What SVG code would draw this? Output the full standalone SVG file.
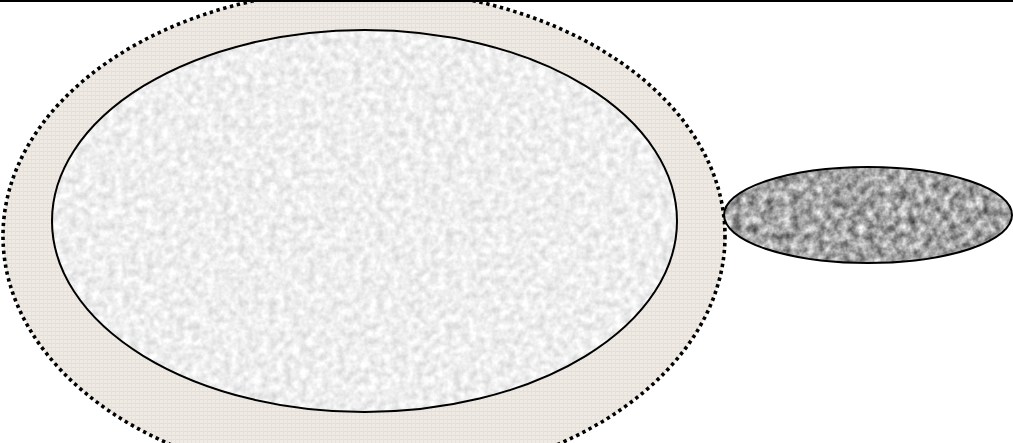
<svg xmlns="http://www.w3.org/2000/svg" width="1013" height="443" viewBox="0 0 1013 443">
  <style>
    .edge { fill: none; stroke: #000; stroke-width: 2; }
    .dotted { fill: none; stroke: #000; stroke-width: 3.6; stroke-dasharray: 3.4 3.6; }
  </style>
  <defs>
    <pattern id="canvas" width="4" height="4" patternUnits="userSpaceOnUse">
      <rect width="4" height="4" fill="#efebe4"/>
      <rect x="0" y="3" width="4" height="1" fill="#e4ded3"/>
      <rect x="3" y="0" width="1" height="4" fill="#e7e1d7"/>
    </pattern>
    <filter id="graniteLight" x="0" y="0" width="1" height="1" color-interpolation-filters="sRGB">
      <feTurbulence type="fractalNoise" baseFrequency="0.13" numOctaves="3" seed="4" result="n"/>
      <feColorMatrix in="n" type="matrix" values="0.25 0 0 0 0.81  0.25 0 0 0 0.81  0.25 0 0 0 0.81  0 0 0 0 1" result="g"/>
      <feComposite in="g" in2="SourceAlpha" operator="in"/>
    </filter>
    <filter id="graniteDark" x="0" y="0" width="1" height="1" color-interpolation-filters="sRGB">
      <feTurbulence type="fractalNoise" baseFrequency="0.12" numOctaves="3" seed="9" result="n"/>
      <feColorMatrix in="n" type="matrix" values="0.9 0 0 0 0.19  0.9 0 0 0 0.19  0.9 0 0 0 0.19  0 0 0 0 1" result="g"/>
      <feComposite in="g" in2="SourceAlpha" operator="in"/>
    </filter>
  </defs>

  <g id="outer-region">
    <ellipse cx="364" cy="236" rx="361" ry="247" fill="url(#canvas)"/>
    <ellipse class="dotted" cx="364" cy="236" rx="361" ry="247"/>
  </g>

  <g id="inner-region">
    <ellipse cx="364.5" cy="221" rx="312.5" ry="191" fill="#ececec" filter="url(#graniteLight)"/>
    <ellipse class="edge" cx="364.5" cy="221" rx="312.5" ry="191"/>
  </g>

  <g id="small-node">
    <ellipse cx="868" cy="215" rx="144" ry="48" fill="#999" filter="url(#graniteDark)"/>
    <ellipse class="edge" cx="868" cy="215" rx="144" ry="48"/>
  </g>

  <g id="connectors"></g>

  <g id="top-rule">
    <rect x="0" y="0" width="1013" height="2" fill="#000"/>
  </g>
</svg>
